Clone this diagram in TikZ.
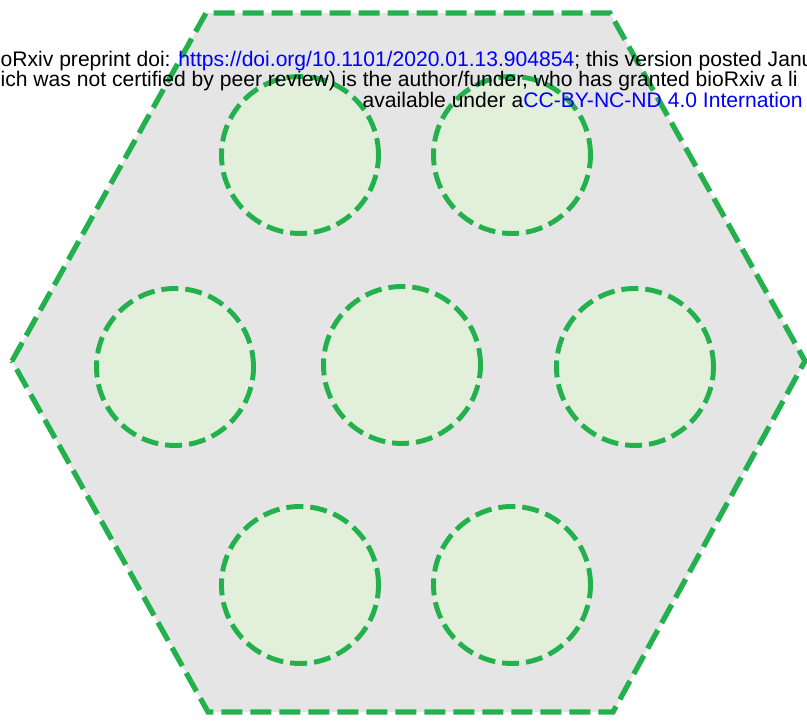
\documentclass[tikz,border=0pt]{standalone}
\usepackage{fontspec}
\setmainfont{Liberation Sans}
\definecolor{verde}{RGB}{34,177,76}
\definecolor{gris}{RGB}{229,229,229}
\definecolor{verdeclaro}{RGB}{226,239,218}
\definecolor{enlace}{RGB}{0,0,255}
\tikzset{
    borde/.style={draw=verde, line width=1.5pt, dash pattern=on 0.21cm off 0.08cm},
    celula/.style={circle, draw=verde, fill=verdeclaro, line width=1.4pt, dash pattern=on 0.17cm off 0.07cm, minimum size=1.57cm, inner sep=0pt},
    cabecera/.style={anchor=base west, inner sep=0pt, font=\fontsize{6}{7}\selectfont},
}

\begin{document}
\begin{tikzpicture}
\clip (0,0) rectangle (8.07,7.22);
% Hexagon
\draw[borde, fill=gris] (0.12,3.61) -- (2.06,7.09) -- (6.10,7.09) -- (8.05,3.61) -- (6.13,0.10) -- (2.08,0.10) -- cycle;
% Row 1: two circles
\node[celula] (c1) at (3.00,5.67) {};
\node[celula] (c2) at (5.12,5.67) {};
% Row 2: three circles
\node[celula] (c3) at (1.75,3.55) {};
\node[celula] (c4) at (4.02,3.57) {};
\node[celula] (c5) at (6.35,3.55) {};
% Row 3: two circles
\node[celula] (c6) at (3.00,1.37) {};
\node[celula] (c7) at (5.12,1.37) {};
% Header text
\node[cabecera] (linea1) at (0.00,6.55) {oRxiv preprint doi: \textcolor{enlace}{https://doi.org/10.1101/2020.01.13.904854}; this version posted Janu};
\node[cabecera] (linea2) at (0.00,6.35) {ich was not certified by peer review) is the author/funder, who has granted bioRxiv a li};
\node[cabecera] (linea3) at (3.62,6.14) {available under a\textcolor{enlace}{CC-BY-NC-ND 4.0 Internation}};
\end{tikzpicture}
\end{document}
